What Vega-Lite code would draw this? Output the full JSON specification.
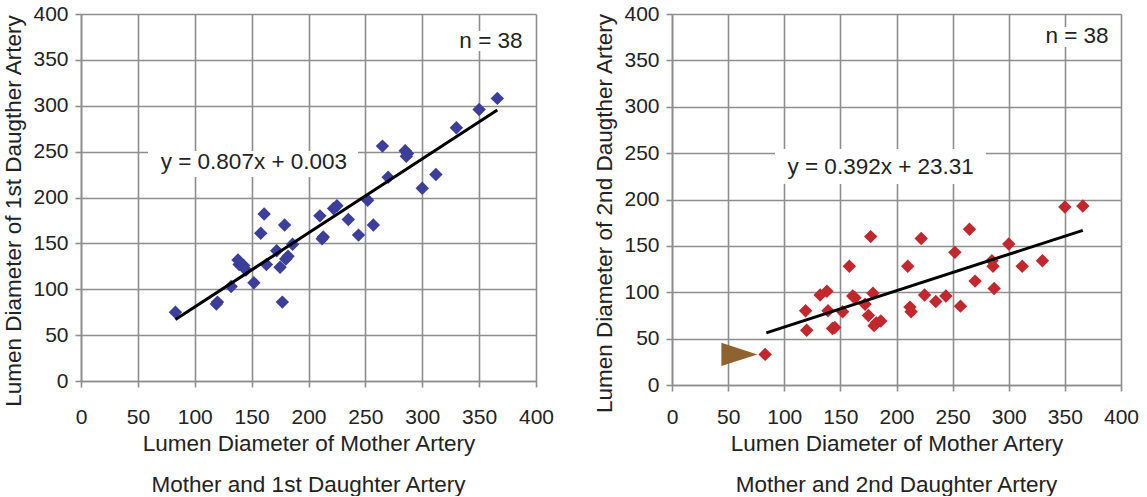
{
  "$schema": "https://vega.github.io/schema/vega-lite/v6.json",
  "padding": {"left": 2, "top": 3, "right": 5, "bottom": 0},
  "datasets": {
    "pts": [
      {"mother": 83, "d1": 75, "d2": 33},
      {"mother": 119, "d1": 84, "d2": 80},
      {"mother": 120, "d1": 86, "d2": 59},
      {"mother": 132, "d1": 103, "d2": 97},
      {"mother": 138, "d1": 132, "d2": 101},
      {"mother": 139, "d1": 127, "d2": 80},
      {"mother": 143, "d1": 126, "d2": 61},
      {"mother": 145, "d1": 121, "d2": 62},
      {"mother": 152, "d1": 107, "d2": 79},
      {"mother": 158, "d1": 161, "d2": 128},
      {"mother": 161, "d1": 182, "d2": 96},
      {"mother": 163, "d1": 127, "d2": 94},
      {"mother": 172, "d1": 142, "d2": 87},
      {"mother": 175, "d1": 124, "d2": 75},
      {"mother": 177, "d1": 86, "d2": 160},
      {"mother": 179, "d1": 170, "d2": 99},
      {"mother": 180, "d1": 133, "d2": 64},
      {"mother": 182, "d1": 136, "d2": 67},
      {"mother": 186, "d1": 149, "d2": 69},
      {"mother": 210, "d1": 180, "d2": 128},
      {"mother": 212, "d1": 155, "d2": 84},
      {"mother": 213, "d1": 157, "d2": 79},
      {"mother": 222, "d1": 188, "d2": 158},
      {"mother": 225, "d1": 191, "d2": 97},
      {"mother": 235, "d1": 176, "d2": 90},
      {"mother": 244, "d1": 159, "d2": 96},
      {"mother": 252, "d1": 197, "d2": 143},
      {"mother": 257, "d1": 170, "d2": 85},
      {"mother": 265, "d1": 256, "d2": 168},
      {"mother": 270, "d1": 222, "d2": 112},
      {"mother": 285, "d1": 251, "d2": 134},
      {"mother": 286, "d1": 245, "d2": 128},
      {"mother": 287, "d1": 248, "d2": 104},
      {"mother": 300, "d1": 210, "d2": 152},
      {"mother": 312, "d1": 225, "d2": 128},
      {"mother": 330, "d1": 276, "d2": 134},
      {"mother": 350, "d1": 296, "d2": 192},
      {"mother": 366, "d1": 308, "d2": 193}
    ],
    "fit": [
      {"mother": 83, "fit1": 66.98},
      {"mother": 366, "fit1": 295.37}
    ],
    "fit2": [
      {"mother": 84, "fit2": 56.24},
      {"mother": 366, "fit2": 166.78}
    ],
    "arrow": [
      {"mother": 60, "d2": 33}
    ]
  },
  "config": {
    "font": "Liberation Sans",
    "view": {"stroke": null},
    "axis": {
      "grid": true,
      "domain": true,
      "ticks": true,
      "labelFont": "Liberation Sans",
      "labelFontSize": 21,
      "labelColor": "#222222",
      "titleFont": "Liberation Sans",
      "titleFontSize": 22.5,
      "titleFontWeight": "normal",
      "titleColor": "#222222",
      "domainColor": "#8e8e8e",
      "domainWidth": 1.6,
      "tickColor": "#8e8e8e",
      "tickWidth": 1.6,
      "tickSize": 6,
      "labelFlush": false,
      "labelOverlap": false,
      "gridWidth": 1.6
    },
    "title": {
      "font": "Liberation Sans",
      "fontSize": 22.5,
      "fontWeight": "normal",
      "color": "#222222",
      "orient": "bottom",
      "frame": "group",
      "anchor": "middle",
      "baseline": "alphabetic",
      "offset": 19
    }
  },
  "spacing": 39,
  "hconcat": [
    {
      "width": 455,
      "height": 367,
      "title": {"text": "Mother and 1st Daughter Artery"},
      "layer": [
        {
          "data": {"name": "pts"},
          "mark": {"type": "point", "shape": "diamond", "filled": true, "size": 180, "opacity": 1, "color": "#3b3e9a"},
          "encoding": {
            "x": {
              "field": "mother", "type": "quantitative",
              "scale": {"domain": [0, 400], "nice": false},
              "axis": {
                "title": "Lumen Diameter of Mother Artery",
                "grid": true,
                "domain": true,
                "ticks": true,
                "values": [0, 25, 50, 75, 100, 125, 150, 175, 200, 225, 250, 275, 300, 325, 350, 375, 400],
                "labelExpr": "datum.value % 50 === 0 ? datum.label : ''",
                "tickOpacity": {"condition": {"test": "datum.value % 50 === 0", "value": 1}, "value": 0},
                "gridColor": {"condition": {"test": "datum.value % 50 === 0", "value": "#8e8e8e"}, "value": "#c4c4c4"},
                "labelPadding": 19.4,
                "titleBaseline": "alphabetic",
                "titleY": 69
              }
            },
            "y": {
              "field": "d1", "type": "quantitative",
              "scale": {"domain": [0, 400], "nice": false},
              "axis": {
                "title": "Lumen Diameter of 1st Daugther Artery",
                "grid": true,
                "domain": true,
                "ticks": true,
                "values": [0, 25, 50, 75, 100, 125, 150, 175, 200, 225, 250, 275, 300, 325, 350, 375, 400],
                "labelExpr": "datum.value % 50 === 0 ? datum.label : ''",
                "tickOpacity": {"condition": {"test": "datum.value % 50 === 0", "value": 1}, "value": 0},
                "gridColor": {"condition": {"test": "datum.value % 50 === 0", "value": "#8e8e8e"}, "value": "#c4c4c4"},
                "labelPadding": 7,
                "titleBaseline": "alphabetic",
                "titleX": -60.5,
                "titleY": 196.5
              }
            }
          }
        },
        {
          "data": {"values": [{}]},
          "mark": {"type": "rect", "color": "white"},
          "encoding": {
            "x": {"datum": 58.9, "type": "quantitative"},
            "x2": {"datum": 243.5},
            "y": {"datum": 250.7, "type": "quantitative"},
            "y2": {"datum": 222.3}
          }
        },
        {
          "data": {"values": [{}]},
          "mark": {"type": "rect", "color": "white"},
          "encoding": {
            "x": {"datum": 323.5, "type": "quantitative"},
            "x2": {"datum": 394.7},
            "y": {"datum": 381.5, "type": "quantitative"},
            "y2": {"datum": 359.7}
          }
        },
        {
          "data": {"name": "fit"},
          "mark": {"type": "line", "color": "black", "strokeWidth": 3},
          "encoding": {
            "x": {"field": "mother", "type": "quantitative"},
            "y": {"field": "fit1", "type": "quantitative"}
          }
        },
        {
          "data": {"values": [{}]},
          "mark": {"type": "text", "fontSize": 22.5, "color": "#222222", "align": "center", "baseline": "middle", "text": "y = 0.807x + 0.003"},
          "encoding": {
            "x": {"datum": 152, "type": "quantitative"},
            "y": {"datum": 238.7, "type": "quantitative"}
          }
        },
        {
          "data": {"values": [{}]},
          "mark": {"type": "text", "fontSize": 22.5, "color": "#222222", "align": "center", "baseline": "middle", "text": "n = 38"},
          "encoding": {
            "x": {"datum": 360.4, "type": "quantitative"},
            "y": {"datum": 370.9, "type": "quantitative"}
          }
        }
      ]
    },
    {
      "width": 449,
      "height": 371,
      "title": {"text": "Mother and 2nd Daughter Artery"},
      "layer": [
        {
          "data": {"name": "pts"},
          "mark": {"type": "point", "shape": "diamond", "filled": true, "size": 180, "opacity": 1, "color": "#c1272d"},
          "encoding": {
            "x": {
              "field": "mother", "type": "quantitative",
              "scale": {"domain": [0, 400], "nice": false},
              "axis": {
                "title": "Lumen Diameter of Mother Artery",
                "grid": true,
                "domain": true,
                "ticks": true,
                "values": [0, 25, 50, 75, 100, 125, 150, 175, 200, 225, 250, 275, 300, 325, 350, 375, 400],
                "labelExpr": "datum.value % 50 === 0 ? datum.label : ''",
                "tickOpacity": {"condition": {"test": "datum.value % 50 === 0", "value": 1}, "value": 0},
                "gridColor": {"condition": {"test": "datum.value % 50 === 0", "value": "#8e8e8e"}, "value": "#c4c4c4"},
                "labelPadding": 15.4,
                "titleBaseline": "alphabetic",
                "titleY": 65
              }
            },
            "y": {
              "field": "d2", "type": "quantitative",
              "scale": {"domain": [0, 400], "nice": false},
              "axis": {
                "title": "Lumen Diameter of 2nd Daugther Artery",
                "grid": true,
                "domain": true,
                "ticks": true,
                "values": [0, 25, 50, 75, 100, 125, 150, 175, 200, 225, 250, 275, 300, 325, 350, 375, 400],
                "labelExpr": "datum.value % 50 === 0 ? datum.label : ''",
                "tickOpacity": {"condition": {"test": "datum.value % 50 === 0", "value": 1}, "value": 0},
                "gridColor": {"condition": {"test": "datum.value % 50 === 0", "value": "#8e8e8e"}, "value": "#c4c4c4"},
                "labelPadding": 7,
                "titleBaseline": "alphabetic",
                "titleX": -60.5,
                "titleY": 199
              }
            }
          }
        },
        {
          "data": {"values": [{}]},
          "mark": {"type": "rect", "color": "white"},
          "encoding": {
            "x": {"datum": 91.8, "type": "quantitative"},
            "x2": {"datum": 279.7},
            "y": {"datum": 254.4, "type": "quantitative"},
            "y2": {"datum": 216.7}
          }
        },
        {
          "data": {"values": [{}]},
          "mark": {"type": "rect", "color": "white"},
          "encoding": {
            "x": {"datum": 323.4, "type": "quantitative"},
            "x2": {"datum": 394.7},
            "y": {"datum": 386, "type": "quantitative"},
            "y2": {"datum": 364.4}
          }
        },
        {
          "data": {"name": "fit2"},
          "mark": {"type": "line", "color": "black", "strokeWidth": 3},
          "encoding": {
            "x": {"field": "mother", "type": "quantitative"},
            "y": {"field": "fit2", "type": "quantitative"}
          }
        },
        {
          "data": {"name": "arrow"},
          "mark": {"type": "point", "shape": "M -1 -0.64 L 1 0 L -1 0.64 Z", "filled": true, "size": 1296, "opacity": 1, "color": "#8e6330"},
          "encoding": {
            "x": {"field": "mother", "type": "quantitative"},
            "y": {"field": "d2", "type": "quantitative"}
          }
        },
        {
          "data": {"values": [{}]},
          "mark": {"type": "text", "fontSize": 22.5, "color": "#222222", "align": "center", "baseline": "middle", "text": "y = 0.392x + 23.31"},
          "encoding": {
            "x": {"datum": 185.9, "type": "quantitative"},
            "y": {"datum": 234.6, "type": "quantitative"}
          }
        },
        {
          "data": {"values": [{}]},
          "mark": {"type": "text", "fontSize": 22.5, "color": "#222222", "align": "center", "baseline": "middle", "text": "n = 38"},
          "encoding": {
            "x": {"datum": 360.8, "type": "quantitative"},
            "y": {"datum": 376.6, "type": "quantitative"}
          }
        }
      ]
    }
  ]
}
